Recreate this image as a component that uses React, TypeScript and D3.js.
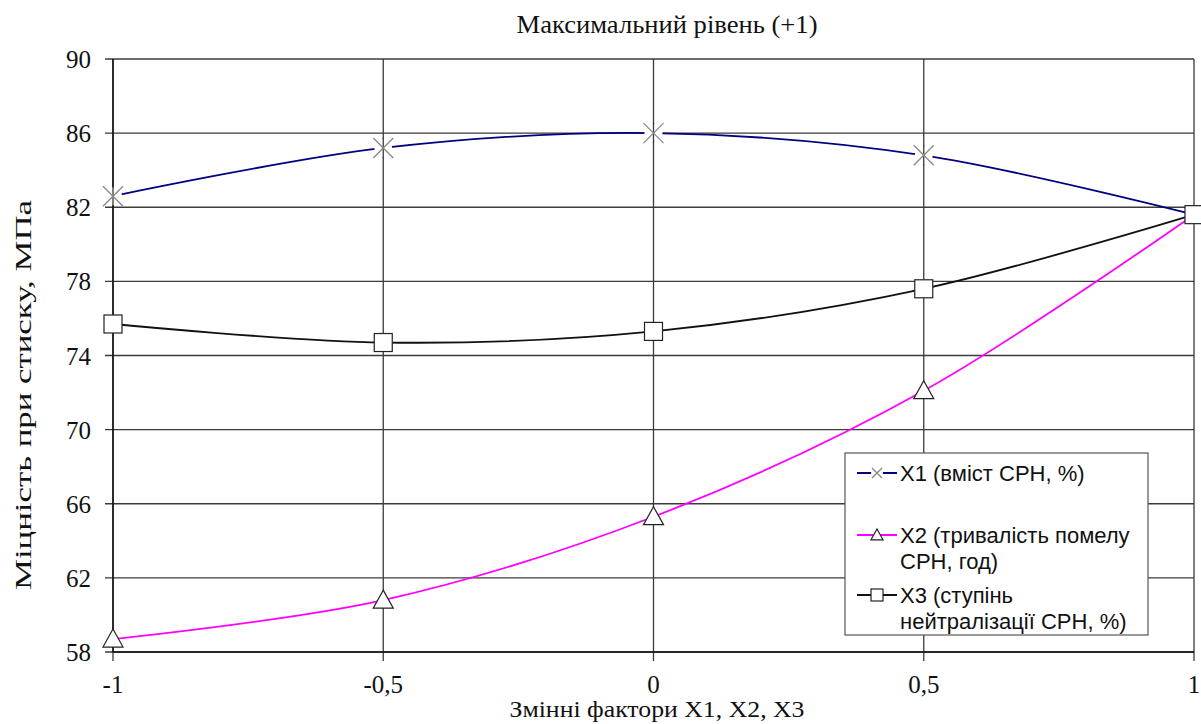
import React from "react";
import * as d3 from "d3";

const xValues = [-1, -0.5, 0, 0.5, 1];
const xTickLabels = ["-1", "-0,5", "0", "0,5", "1"];
const yTicks = [58, 62, 66, 70, 74, 78, 82, 86, 90];
const x1Values = [82.6, 85.2, 86.0, 84.8, 81.6];
const x2Values = [58.7, 60.8, 65.3, 72.1, 81.6];
const x3Values = [75.7, 74.7, 75.3, 77.6, 81.6];

const title = "Максимальний рівень (+1)";
const xTitle = "Змінні фактори X1, X2, X3";
const yTitle = "Міцність при стиску, МПа";
const legendLabels = [
  ["X1 (вміст СРН, %)"],
  ["X2 (тривалість помелу", "СРН, год)"],
  ["X3 (ступінь", "нейтралізації СРН, %)"],
];

const W = 1201;
const H = 724;
const L = 113, R = 1194, T = 59, B = 652;

export default function App() {
  const x = d3.scaleLinear().domain([-1, 1]).range([L, R]);
  const y = d3.scaleLinear().domain([58, 90]).range([B, T]);
  const line = d3
    .line<number>()
    .x((_, i) => x(xValues[i]))
    .y((d) => y(d))
    .curve(d3.curveCatmullRom.alpha(0.5));

  const serif = "'Liberation Serif', 'Times New Roman', serif";
  const sans = "'Liberation Sans', Arial, sans-serif";

  const cross = (cx: number, cy: number, s = 10, key?: any) => (
    <path
      key={key}
      d={`M${cx - s},${cy - s}L${cx + s},${cy + s}M${cx - s},${cy + s}L${cx + s},${cy - s}`}
      stroke="#8a8a8a"
      strokeWidth={1.4}
      fill="none"
    />
  );
  const tri = (cx: number, cy: number, s = 10, key?: any) => (
    <path
      key={key}
      d={`M${cx},${cy - s}L${cx + s},${cy + s * 0.8}L${cx - s},${cy + s * 0.8}Z`}
      fill="#fff"
      stroke="#222"
      strokeWidth={1.2}
    />
  );
  const sq = (cx: number, cy: number, s = 9, key?: any) => (
    <rect key={key} x={cx - s} y={cy - s} width={2 * s} height={2 * s} fill="#fff" stroke="#222" strokeWidth={1.2} />
  );

  const legX = 845, legY = 453, legW = 303, legH = 182;
  const rowY = [473, 535, 595];
  const sampleX0 = 857, sampleX1 = 897, textX = 900;

  return (
    <svg width={W} height={H} style={{ display: "block", position: "absolute", left: 0, top: 0, background: "#fff" }}>
      {/* grid */}
      {yTicks.map((t) => (
        <line key={"gy" + t} x1={L - 8} x2={R} y1={y(t)} y2={y(t)} stroke="#3a3a3a" strokeWidth={1.3} />
      ))}
      {xValues.map((v) => (
        <line key={"gx" + v} x1={x(v)} x2={x(v)} y1={T} y2={B + 9} stroke="#3a3a3a" strokeWidth={1.3} />
      ))}
      <line x1={L} x2={L} y1={T} y2={B} stroke="#111" strokeWidth={1.5} />
      <line x1={L} x2={R} y1={B} y2={B} stroke="#111" strokeWidth={1.5} />

      {/* tick labels */}
      {yTicks.map((t) => (
        <text key={"ty" + t} x={91} y={y(t) + 9} textAnchor="end" fontFamily={serif} fontSize={25} fill="#111">
          {t}
        </text>
      ))}
      {xValues.map((v, i) => (
        <text key={"tx" + v} x={x(v)} y={693} textAnchor="middle" fontFamily={serif} fontSize={25} fill="#111">
          {xTickLabels[i]}
        </text>
      ))}

      {/* titles */}
      <text x={667} y={33} textAnchor="middle" fontFamily={serif} fontSize={25} textLength={301} lengthAdjust="spacingAndGlyphs" fill="#111">
        {title}
      </text>
      <text x={657} y={717} textAnchor="middle" fontFamily={serif} fontSize={23} textLength={295} lengthAdjust="spacingAndGlyphs" fill="#111">
        {xTitle}
      </text>
      <text
        transform={`translate(31,395) rotate(-90)`}
        textAnchor="middle"
        fontFamily={serif}
        fontSize={24}
        textLength={390}
        lengthAdjust="spacingAndGlyphs"
        fill="#111"
      >
        {yTitle}
      </text>

      {/* series lines */}
      <path d={line(x3Values) || ""} fill="none" stroke="#111" strokeWidth={1.8} />
      <path d={line(x2Values) || ""} fill="none" stroke="#ff00ff" strokeWidth={1.8} />
      <path d={line(x1Values) || ""} fill="none" stroke="#000080" strokeWidth={1.8} />

      {/* markers */}
      {x1Values.slice(0, 4).map((v, i) => (
        <g key={"m1" + i}>
          <circle cx={x(xValues[i])} cy={y(v)} r={9} fill="#fff" />
          <line x1={x(xValues[i])} x2={x(xValues[i])} y1={y(v) - 10} y2={y(v) + 10} stroke="#3a3a3a" strokeWidth={1.3} />
          {cross(x(xValues[i]), y(v))}
        </g>
      ))}
      {x2Values.slice(0, 4).map((v, i) => tri(x(xValues[i]), y(v), 10, "m2" + i))}
      {x3Values.map((v, i) => sq(x(xValues[i]), y(v), 9, "m3" + i))}

      {/* legend */}
      <rect x={legX} y={legY} width={legW} height={legH} fill="#fff" stroke="#555" strokeWidth={1.2} />
      <line x1={sampleX0} x2={sampleX1} y1={rowY[0]} y2={rowY[0]} stroke="#000080" strokeWidth={1.8} />
      <circle cx={(sampleX0 + sampleX1) / 2} cy={rowY[0]} r={6} fill="#fff" />
      {cross((sampleX0 + sampleX1) / 2, rowY[0], 5)}
      <line x1={sampleX0} x2={sampleX1} y1={rowY[1]} y2={rowY[1]} stroke="#ff00ff" strokeWidth={1.8} />
      {tri((sampleX0 + sampleX1) / 2, rowY[1], 6)}
      <line x1={sampleX0} x2={sampleX1} y1={rowY[2]} y2={rowY[2]} stroke="#111" strokeWidth={1.8} />
      {sq((sampleX0 + sampleX1) / 2, rowY[2], 6)}
      {legendLabels.map((lines, i) =>
        lines.map((s, j) => (
          <text key={"lg" + i + j} x={textX} y={rowY[i] + 8 + j * 26} fontFamily={sans} fontSize={22} fill="#111">
            {s}
          </text>
        ))
      )}
    </svg>
  );
}
